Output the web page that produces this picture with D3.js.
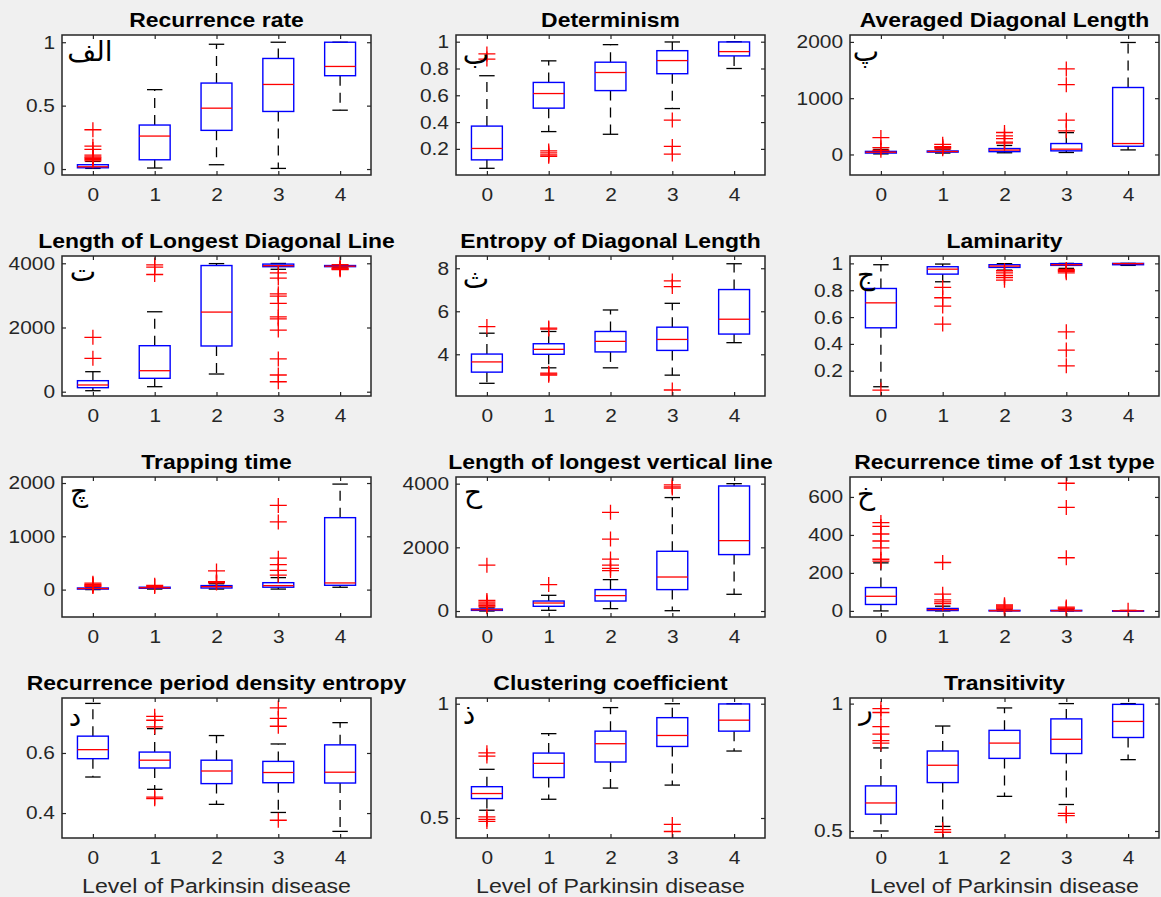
<!DOCTYPE html>
<html><head><meta charset="utf-8">
<script src="https://cdn.jsdelivr.net/npm/d3@7"></script>
<style>
html,body{margin:0;padding:0;background:#f0f0f0;}
svg{display:block;}
</style></head><body>
<svg id="chart" width="1161" height="897"></svg>
<script>
// ---------- data ----------
const categories = ["0","1","2","3","4"];
const titles = ["Recurrence rate","Determinism","Averaged Diagonal Length",
  "Length of Longest Diagonal Line","Entropy of Diagonal Length","Laminarity",
  "Trapping time","Length of longest vertical line","Recurrence time of 1st type",
  "Recurrence period density entropy","Clustering coefficient","Transitivity"];
const letters = ["الف","ب","پ","ت","ث","ج","چ","ح","خ","د","ذ","ر"];
const xLabel = "Level of Parkinsin disease";
const yTicks = [[0,0.5,1],[0.2,0.4,0.6,0.8,1],[0,1000,2000],
  [0,2000,4000],[4,6,8],[0.2,0.4,0.6,0.8,1],
  [0,1000,2000],[0,2000,4000],[0,200,400,600],
  [0.4,0.6],[0.5,1],[0.5,1]];
const yDomains = [[-0.047,1.057],[0.005,1.05],[-365,2123],
  [-134,4227],[2.06,8.57],[0.012,1.055],
  [-514,2113],[-188,4209],[-32,705],
  [0.317,0.783],[0.4125,1.025],[0.4725,1.022]];
const lowWhisker = [
  [0.005,0.008,0.034,0.005,0.464],[0.055,0.329,0.309,0.501,0.8],[10,25,30,35,81],
  [31,156,551,3813,3880],[2.65,3.37,3.37,3.03,4.54],[0.081,0.863,0.95,0.963,0.985],
  [0,10,10,10,44],[0,22,75,10,525],[0,0,0,0,0],
  [0.52,0.479,0.429,0.402,0.339],[0.534,0.582,0.631,0.644,0.793],[0.5,0.518,0.636,0.604,0.78]];
const q1 = [
  [0.01,0.073,0.305,0.454,0.736],[0.118,0.504,0.635,0.761,0.894],[25,42,50,64,146],
  [125,417,1424,3894,3895],[3.17,4.0,4.11,4.18,4.94],[0.52,0.92,0.97,0.985,0.99],
  [10,25,30,45,81],[20,148,314,672,1772],[34,2,0,0,0],
  [0.581,0.55,0.498,0.501,0.5],[0.585,0.677,0.745,0.813,0.88],[0.566,0.69,0.785,0.804,0.867]];
const median = [
  [0.018,0.26,0.48,0.667,0.809],[0.203,0.613,0.77,0.859,0.926],[40,52,78,94,194],
  [209,654,2480,3925,3910],[3.645,4.23,4.6,4.69,5.63],[0.706,0.957,0.98,0.99,0.998],
  [20,35,55,75,125],[40,251,484,1068,2210],[77,7,1,1,0.5],
  [0.611,0.576,0.54,0.535,0.536],[0.607,0.739,0.825,0.861,0.928],[0.61,0.758,0.845,0.86,0.93]];
const q3 = [
  [0.034,0.347,0.678,0.872,1.0],[0.37,0.696,0.847,0.933,0.998],[55,62,105,194,1190],
  [343,1433,3930,3975,3930],[4.01,4.49,5.06,5.26,7.01],[0.813,0.975,0.99,0.998,1.0],
  [30,45,75,130,1350],[60,314,672,1876,3927],[123,13,3,3,1],
  [0.656,0.603,0.576,0.572,0.627],[0.637,0.784,0.88,0.939,0.999],[0.677,0.814,0.895,0.94,0.997]];
const highWhisker = [
  [0.06,0.626,0.984,1.0,1.0],[0.746,0.857,0.978,0.998,1.0],[90,95,160,388,1990],
  [623,2490,3990,3995,3950],[4.98,5.06,6.06,6.37,8.21],[0.99,0.995,0.998,1.0,1.0],
  [50,70,110,225,1980],[100,493,986,3563,4000],[253,25,6,6,2],
  [0.765,0.681,0.658,0.63,0.701],[0.713,0.869,0.983,1.0,1.0],[0.826,0.912,0.983,1.0,1.0]];
const outliers = [
  [[0.31,0.18,0.155,0.11,0.095,0.085,0.075,0.065],[],[],[],[]],
  [[0.909,0.87],[0.185,0.17,0.155,0.145],[],[0.415,0.218,0.161],[]],
  [[300,120,75],[180,140,120,100],[390,330,280,220,200],[1520,1240,610,420],[]],
  [[1695,1040],[3950,3880,3650],[],[3700,3540,3050,2980,2750,2330,2270,1920,1020,520,310],[3960,3860,3840,3820,3800]],
  [[5.29],[5.22,5.17,3.12,3.08,3.03],[],[7.41,7.15,2.34],[]],
  [[0.056],[0.821,0.744,0.682,0.548],[0.945,0.93,0.91,0.895,0.875],[0.955,0.948,0.94,0.93,0.49,0.354,0.237],[]],
  [[120,100,85,70,60],[80,60],[350,150,135,125],[1580,1270,590,470,360,270],[]],
  [[1440,330,280,220,170,130],[829],[3100,2260,1630,1440,1340,1270],[3960,3900,3860],[]],
  [[465,445,405,368,332,272,262],[255,88,58,48,38],[32,26,20,15,10],[672,545,280,20,14,9],[3]],
  [[],[0.722,0.709,0.687,0.453,0.448],[],[0.75,0.715,0.689,0.376],[]],
  [[0.785,0.771,0.505,0.494,0.485],[],[],[0.472,0.441],[]],
  [[0.98,0.965,0.91,0.88,0.855,0.845],[0.505,0.495],[],[0.569,0.56],[]]];

// ---------- layout ----------
const colLeft = [62,456,850], rowTop = [35,256,477,698], W = 309, H = 140;
const letterPos = [[28,26],[20,29],[16,26],[21,25],[20,32],[16,28],[17,24],[17,25],[16,27],[13,28],[13,26],[16,21]];
const SX = 1.13;
const FONT = "'Liberation Sans', Arial, sans-serif";
const AXC = "#262626";

const svg = d3.select("#chart");
svg.append("rect").attr("width",1161).attr("height",897).attr("fill","#f0f0f0");

function scaleText(sel){
  sel.each(function(){
    const t = d3.select(this);
    const xv = +t.attr("x") || 0, yv = +t.attr("y") || 0;
    t.attr("transform", `translate(${xv},${yv}) scale(${SX},1)`).attr("x",0).attr("y",0);
  });
}

titles.forEach((title,i) => {
  const r = Math.floor(i/3), c = i%3;
  const x0 = colLeft[c], y0 = rowTop[r];
  const g = svg.append("g");
  const x = d3.scalePoint().domain(categories).range([x0,x0+W]).padding(0.5);
  const step = x.step();
  const y = d3.scaleLinear().domain(yDomains[i]).range([y0+H,y0]);

  g.append("rect").attr("x",x0).attr("y",y0).attr("width",W).attr("height",H).attr("fill","#fff");

  const clipId = "clip"+i;
  g.append("clipPath").attr("id",clipId).append("rect")
    .attr("x",x0).attr("y",y0).attr("width",W).attr("height",H);
  const pg = g.append("g").attr("clip-path",`url(#${clipId})`);

  categories.forEach((cat,k) => {
    const cx = x(cat);
    const bw = step*0.5, cw = step*0.25;
    const b = pg.append("g");
    b.append("line").attr("x1",cx).attr("x2",cx).attr("y1",y(q3[i][k])).attr("y2",y(highWhisker[i][k]))
      .attr("stroke","#000").attr("stroke-width",1.3).attr("stroke-dasharray","10,7");
    b.append("line").attr("x1",cx).attr("x2",cx).attr("y1",y(q1[i][k])).attr("y2",y(lowWhisker[i][k]))
      .attr("stroke","#000").attr("stroke-width",1.3).attr("stroke-dasharray","10,7");
    [highWhisker[i][k], lowWhisker[i][k]].forEach(v => {
      b.append("line").attr("x1",cx-cw/2).attr("x2",cx+cw/2).attr("y1",y(v)).attr("y2",y(v))
        .attr("stroke","#000").attr("stroke-width",1.3);
    });
    b.append("rect").attr("x",cx-bw/2).attr("width",bw)
      .attr("y",y(q3[i][k])).attr("height",Math.max(0.5,y(q1[i][k])-y(q3[i][k])))
      .attr("fill","none").attr("stroke","#0000ff").attr("stroke-width",1.4);
    b.append("line").attr("x1",cx-bw/2).attr("x2",cx+bw/2).attr("y1",y(median[i][k])).attr("y2",y(median[i][k]))
      .attr("stroke","#ff0000").attr("stroke-width",1.3);
    outliers[i][k].forEach(v => {
      const py = y(v);
      b.append("path").attr("d",`M${cx-8.5},${py}H${cx+8.5}M${cx},${py-7.5}V${py+7.5}`)
        .attr("stroke","#ff0000").attr("stroke-width",1.3).attr("fill","none");
    });
  });

  const fmt = d3.format("~g");
  const left = g.append("g").attr("transform",`translate(${x0},0)`)
    .call(d3.axisLeft(y).tickValues(yTicks[i]).tickSizeInner(-4).tickSizeOuter(0).tickPadding(7).tickFormat(fmt));
  const right = g.append("g").attr("transform",`translate(${x0+W},0)`)
    .call(d3.axisRight(y).tickValues(yTicks[i]).tickSizeInner(-4).tickSizeOuter(0).tickFormat(""));
  const bottom = g.append("g").attr("transform",`translate(0,${y0+H})`)
    .call(d3.axisBottom(x).tickSizeInner(-4).tickSizeOuter(0).tickPadding(13));
  const top = g.append("g").attr("transform",`translate(0,${y0})`)
    .call(d3.axisTop(x).tickSizeInner(-4).tickSizeOuter(0).tickFormat(""));
  [left,right,bottom,top].forEach(a => {
    a.attr("color",AXC).attr("font-family",FONT).attr("font-size",18.5);
    a.select(".domain").remove();
    a.selectAll(".tick line").attr("stroke-width",1.2);
  });
  left.selectAll(".tick text").call(scaleText);
  bottom.selectAll(".tick text").attr("dy","0.71em").call(scaleText);

  g.append("rect").attr("x",x0).attr("y",y0).attr("width",W).attr("height",H)
    .attr("fill","none").attr("stroke",AXC).attr("stroke-width",1.5);

  g.append("text").attr("x",x0+W/2).attr("y",y0-8.5).attr("text-anchor","middle")
    .attr("font-family",FONT).attr("font-weight","bold").attr("font-size",20.3).attr("fill","#000")
    .text(title).call(scaleText);

  g.append("text").attr("x",x0+letterPos[i][0]).attr("y",y0+letterPos[i][1]).attr("text-anchor","middle")
    .attr("font-family","'DejaVu Sans', 'Noto Sans', sans-serif")
    .attr("font-size",28).attr("fill","#000")
    .text(letters[i]);

  if (r === 3) {
    g.append("text").attr("x",x0+W/2).attr("y",y0+H+55).attr("text-anchor","middle")
      .attr("font-family",FONT).attr("font-size",20.5).attr("fill",AXC)
      .text(xLabel).call(scaleText);
  }
});
</script>
</body></html>
